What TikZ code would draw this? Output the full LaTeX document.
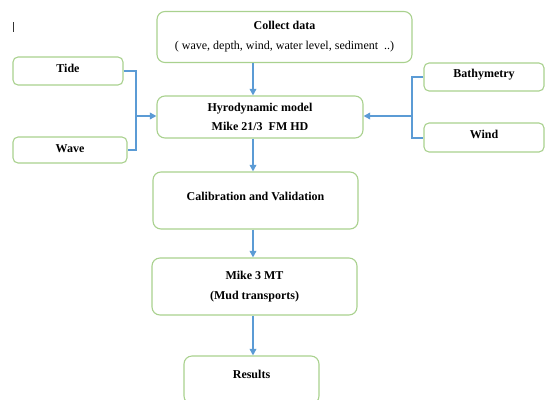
\documentclass[tikz,border=0pt]{standalone}
\usepackage{fontspec}
\setmainfont{Liberation Serif}
\usetikzlibrary{arrows.meta}
\definecolor{boxgreen}{RGB}{169,209,142}
\definecolor{linkblue}{RGB}{91,155,213}

\begin{document}
\begin{tikzpicture}[x=1pt, y=-1pt,
  main node/.style={draw=boxgreen, line width=1.1pt, rounded corners=8pt, align=center,
    inner sep=0pt, font=\bfseries\fontsize{12}{14.4}\selectfont},
  side node/.style={main node, rounded corners=5pt, text height=8pt},
  lift/.style={text height=8pt, text depth=#1},
  link/.style={draw=linkblue, line width=2pt},
  arrow/.style={link, -{Triangle[length=6.5pt,width=6.5pt]}}]
\useasboundingbox (0,0) rectangle (545,399);

\node[main node, minimum width=255pt, minimum height=51pt] (collect) at (284.5,37)
  {Collect data\\[5.5pt]\mdseries ( wave, depth, wind, water level, sediment \ ..)};
\node[side node, minimum width=110pt, minimum height=28pt, lift=6pt] (tide)  at (68,71)    {Tide};
\node[side node, minimum width=114pt, minimum height=26pt, lift=4pt] (wave)  at (70,150)   {Wave};
\node[main node, minimum width=206pt, minimum height=42pt] (hydro) at (260,117)
  {Hyrodynamic model\\[5pt]Mike 21/3 \ FM HD};
\node[side node, minimum width=120pt, minimum height=28pt, lift=8pt] (bathy) at (484,77)   {Bathymetry};
\node[side node, minimum width=120pt, minimum height=29pt, lift=7pt] (wind)  at (484,137.5) {Wind};
\node[main node, minimum width=205pt, minimum height=57pt, lift=9pt] (calib) at (255.5,200.5)
  {Calibration and Validation};
\node[main node, minimum width=205pt, minimum height=57pt] (mud) at (254.5,286.5)
  {Mike 3 MT\\[5.5pt](Mud transports)};
\node[main node, minimum width=135pt, minimum height=48pt, lift=12pt] (results) at (251.5,380)
  {Results};

% text cursor
\draw[black!80, line width=0.8pt] (13,22) -- (13,32);

\coordinate (spine) at (253,0);
\coordinate (jl) at (136,116);
\coordinate (jr) at (412,116);

\path
(collect.south -| spine) edge[arrow] (hydro.north -| spine)
(hydro.south -| spine)   edge[arrow] (calib.north -| spine)
(calib.south -| spine)   edge[arrow] (mud.north -| spine)
(mud.south -| spine)     edge[arrow] (results.north -| spine)
;
\draw[link] (tide.east) -| (jl) |- (wave.east);
\draw[arrow] (jl) -- (hydro.west |- jl);
\draw[link] (bathy.west) -| (jr) |- (wind.west);
\draw[arrow] (jr) -- (hydro.east |- jr);
\end{tikzpicture}
\end{document}
